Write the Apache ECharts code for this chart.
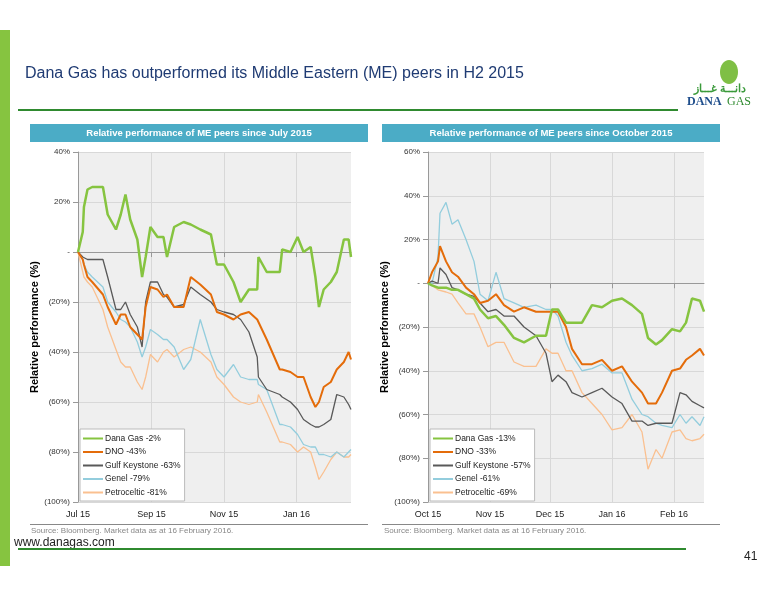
<!DOCTYPE html>
<html><head><meta charset="utf-8">
<script src="https://cdn.jsdelivr.net/npm/echarts@6/dist/echarts.min.js"></script>
<style>html,body{margin:0;padding:0;background:#fff}#c{width:776px;height:600px}</style>
</head><body><div id="c"></div>
<script>
// ======== データ：7月以降 ========
const datesJul = ['2015-07-01','2015-07-05','2015-07-06','2015-07-09','2015-07-13','2015-07-22','2015-07-26','2015-08-02','2015-08-06','2015-08-10','2015-08-14','2015-08-20','2015-08-24','2015-08-27','2015-08-31','2015-09-06','2015-09-11','2015-09-14','2015-09-20','2015-09-28','2015-10-04','2015-10-12','2015-10-21','2015-10-26','2015-11-01','2015-11-09','2015-11-15','2015-11-22','2015-11-29','2015-11-30','2015-12-07','2015-12-18','2015-12-20','2015-12-27','2016-01-02','2016-01-07','2016-01-13','2016-01-17','2016-01-20','2016-01-24','2016-01-30','2016-02-04','2016-02-10','2016-02-14','2016-02-16'];
const danaJul = [0,8,18,25,26,26,15,9,15,23,13,5,-10,-2,10,6,6,-2,10,12,11,9,7,-5,-5,-12,-20,-15,-15,-2,-8,-8,1,0,6,0,2,-10,-22,-15,-12,-8,5,5,-2];
const dnoJul = [0,-3,-5,-10,-12,-17,-22,-29,-25,-25,-30,-33,-35,-22,-14,-15,-18,-17,-22,-22,-10,-13,-17,-24,-25,-27,-25,-24,-27,-27,-35,-47,-47,-48,-50,-50,-58,-62,-60,-54,-52,-47,-44,-40,-43];
const gulfJul = [0,-2,-2,-3,-3,-3,-10,-23,-23,-20,-25,-30,-38,-20,-12,-12,-17,-18,-22,-21,-14,-17,-20,-23,-24,-25,-27,-32,-42,-50,-55,-57,-58,-60,-63,-67,-69,-70,-70,-69,-67,-57,-58,-61,-63];
const genelJul = [0,-3,-5,-8,-10,-14,-20,-24,-27,-28,-30,-36,-42,-38,-31,-33,-35,-35,-38,-47,-43,-27,-41,-47,-50,-45,-50,-51,-51,-53,-55,-69,-69,-70,-73,-77,-78,-78,-81,-81,-82,-80,-82,-80,-79];
const petroJul = [0,-8,-10,-12,-14,-23,-30,-39,-44,-46,-46,-52,-55,-50,-41,-44,-40,-39,-42,-39,-38,-40,-44,-50,-53,-58,-60,-61,-60,-57,-64,-76,-76,-77,-80,-78,-80,-86,-91,-88,-83,-80,-82,-82,-81];
const namesJul = ['Dana Gas -2%','DNO -43%','Gulf Keystone -63%','Genel -79%','Petroceltic -81%'];
const ticksJul = ['2015-07-01','2015-09-01','2015-11-01','2016-01-01'];

// ======== データ：10月以降 ========
const datesOct = ['2015-10-01','2015-10-03','2015-10-06','2015-10-07','2015-10-10','2015-10-13','2015-10-16','2015-10-20','2015-10-24','2015-10-27','2015-10-31','2015-11-04','2015-11-08','2015-11-13','2015-11-18','2015-11-24','2015-11-29','2015-12-02','2015-12-05','2015-12-09','2015-12-12','2015-12-17','2015-12-22','2015-12-27','2016-01-01','2016-01-06','2016-01-11','2016-01-16','2016-01-19','2016-01-23','2016-01-26','2016-01-31','2016-02-04','2016-02-07','2016-02-10','2016-02-14','2016-02-16'];
const danaOct = [0,-1,-2,-2,-2,-3,-3,-5,-7,-12,-16,-15,-19,-25,-27,-24,-24,-12,-12,-18,-18,-18,-10,-11,-8,-7,-10,-14,-25,-28,-26,-21,-22,-18,-7,-8,-13];
const dnoOct = [0,5,10,17,10,5,3,-2,-5,-9,-8,-5,-10,-13,-11,-13,-13,-13,-13,-20,-30,-37,-37,-35,-40,-38,-45,-50,-55,-55,-50,-40,-39,-35,-33,-30,-33];
const gulfOct = [0,1,0,7,4,-2,-3,-5,-6,-9,-13,-12,-15,-15,-20,-24,-32,-45,-42,-45,-50,-52,-50,-48,-52,-55,-63,-63,-65,-64,-64,-64,-50,-51,-54,-56,-57];
const genelOct = [0,0,12,32,37,27,29,20,10,-5,-8,5,-7,-9,-11,-10,-12,-12,-15,-27,-33,-40,-39,-37,-41,-41,-53,-60,-61,-64,-65,-66,-60,-64,-61,-65,-61];
const petroOct = [0,-1,-3,-3,-4,-5,-9,-14,-14,-20,-29,-27,-27,-36,-38,-38,-30,-32,-32,-40,-40,-50,-55,-60,-67,-66,-60,-68,-85,-76,-80,-68,-67,-71,-72,-71,-69];
const namesOct = ['Dana Gas -13%','DNO -33%','Gulf Keystone -57%','Genel -61%','Petroceltic -69%'];
const ticksOct = ['2015-10-01','2015-11-01','2015-12-01','2016-01-01','2016-02-01'];

const colors = ['#86c440','#e46c0a','#595959','#93cddd','#fac090'];
const widths = [2.5,2,1.3,1.3,1.3];
const MON = ['Jan','Feb','Mar','Apr','May','Jun','Jul','Aug','Sep','Oct','Nov','Dec'];

const chart = echarts.init(document.getElementById('c'));

function ts(s){ return new Date(s + 'T00:00:00Z').getTime(); }
function pctLabel(v){ return v === 0 ? '-' : (v < 0 ? '(' + (-v) + '%)' : v + '%'); }
function monLabel(v){ const d = new Date(v); return MON[d.getUTCMonth()] + ' ' + String(d.getUTCFullYear()).slice(2); }

// 日付は数値軸（タイムスタンプ）で表示、目盛は月初のみ
function xAxisFor(idx, start, end, ticks){
  const tv = ticks.map(ts);
  return {
    type:'value', gridIndex:idx, min:ts(start), max:ts(end),
    axisLine:{ lineStyle:{ color:'#999' } },
    axisTick:{ show:true, customValues:tv, lineStyle:{ color:'#999' } },
    axisLabel:{ customValues:tv, formatter:monLabel, fontSize:9, color:'#222', fontFamily:'Liberation Sans' },
    splitLine:{ show:true, lineStyle:{ color:'#d8d8d8' } }
  };
}
function yAxisFor(idx, min, max){
  return {
    type:'value', gridIndex:idx, min:min, max:max, interval:20,
    name:'Relative performance (%)', nameLocation:'middle', nameGap:36,
    nameTextStyle:{ fontSize:11, fontWeight:'bold', color:'#000', fontFamily:'Liberation Sans' },
    axisLine:{ show:true, lineStyle:{ color:'#999' } },
    axisTick:{ show:true, lineStyle:{ color:'#999' } },
    axisLabel:{ formatter:pctLabel, fontSize:8, color:'#333', fontFamily:'Liberation Sans' },
    splitLine:{ lineStyle:{ color:'#d8d8d8' } }
  };
}
function seriesFor(idx, dates, arrs, names){
  return arrs.map((a,i)=>({
    name:names[i], type:'line', xAxisIndex:idx, yAxisIndex:idx,
    data:dates.map((d,j)=>[ts(d), a[j]]), symbol:'none',
    lineStyle:{ color:colors[i], width:widths[i] }, itemStyle:{ color:colors[i] },
    z: 10 - i
  }));
}
function legendFor(left, names){
  return {
    data:names, orient:'vertical', left:left, top:429, itemGap:4.5,
    itemWidth:20, itemHeight:2, icon:'rect',
    backgroundColor:'#fff', borderColor:'#bbb', borderWidth:1, padding:[5,4,4,3],
    textStyle:{ fontSize:8.5, color:'#222', fontFamily:'Liberation Sans', padding:[0,0,0,-3] }
  };
}

const T = (x,y,text,style)=>({ type:'text', left:x, top:y, style:Object.assign({ text:text, fontFamily:'Liberation Sans' }, style) });

chart.setOption({
  animation:false,
  grid:[
    { left:78, right:425, top:152, bottom:98, show:true, backgroundColor:'#efefef', borderWidth:0 },
    { left:428, right:72, top:152, bottom:98, show:true, backgroundColor:'#efefef', borderWidth:0 }
  ],
  xAxis:[ xAxisFor(0,'2015-07-01','2016-02-16',ticksJul), xAxisFor(1,'2015-10-01','2016-02-16',ticksOct) ],
  yAxis:[ yAxisFor(0,-100,40), yAxisFor(1,-100,60) ],
  legend:[ legendFor(80, namesJul), legendFor(430, namesOct) ],
  series:[].concat(
    seriesFor(0, datesJul, [danaJul,dnoJul,gulfJul,genelJul,petroJul], namesJul),
    seriesFor(1, datesOct, [danaOct,dnoOct,gulfOct,genelOct,petroOct], namesOct)
  ),
  graphic:[
    { type:'rect', shape:{ x:0, y:30, width:10, height:536 }, style:{ fill:'#86c440' } },
    T(25, 66, 'Dana Gas has outperformed its Middle Eastern (ME) peers in H2 2015', { fontSize:16, fill:'#1f3b73' }),
    { type:'rect', shape:{ x:18, y:109, width:660, height:2 }, style:{ fill:'#2f8a2f' } },
    { type:'ellipse', shape:{ cx:729, cy:72, rx:9, ry:12 }, style:{ fill:'#7fbf45' } },
    T(694, 83, 'دانـــة غـــاز', { fontSize:11, fill:'#3a9a3a', fontWeight:'bold' }),
    T(687, 96, 'DANA', { fontSize:12, fill:'#1f4e8c', fontWeight:'bold', fontFamily:'Liberation Serif' }),
    T(727, 96, 'GAS', { fontSize:12, fill:'#2f8a2f', fontFamily:'Liberation Serif' }),
    { type:'rect', shape:{ x:30, y:124, width:338, height:18 }, style:{ fill:'#4bacc6' } },
    { type:'rect', shape:{ x:382, y:124, width:338, height:18 }, style:{ fill:'#4bacc6' } },
    { type:'text', x:199, y:133, style:{ text:'Relative performance of ME peers since July 2015', fill:'#fff', fontSize:9.5, fontWeight:'bold', align:'center', verticalAlign:'middle', fontFamily:'Liberation Sans' } },
    { type:'text', x:551, y:133, style:{ text:'Relative performance of ME peers since October 2015', fill:'#fff', fontSize:9.5, fontWeight:'bold', align:'center', verticalAlign:'middle', fontFamily:'Liberation Sans' } },
    { type:'rect', shape:{ x:30, y:524, width:338, height:1 }, style:{ fill:'#888' } },
    { type:'rect', shape:{ x:382, y:524, width:338, height:1 }, style:{ fill:'#888' } },
    T(31, 527, 'Source: Bloomberg. Market data as at 16 February 2016.', { fontSize:8, fill:'#888' }),
    T(384, 527, 'Source: Bloomberg. Market data as at 16 February 2016.', { fontSize:8, fill:'#888' }),
    T(14, 537, 'www.danagas.com', { fontSize:12, fill:'#222' }),
    { type:'rect', shape:{ x:18, y:548, width:668, height:2 }, style:{ fill:'#2f8a2f' } },
    T(744, 551, '41', { fontSize:12, fill:'#222' })
  ]
});
</script>
</body></html>
